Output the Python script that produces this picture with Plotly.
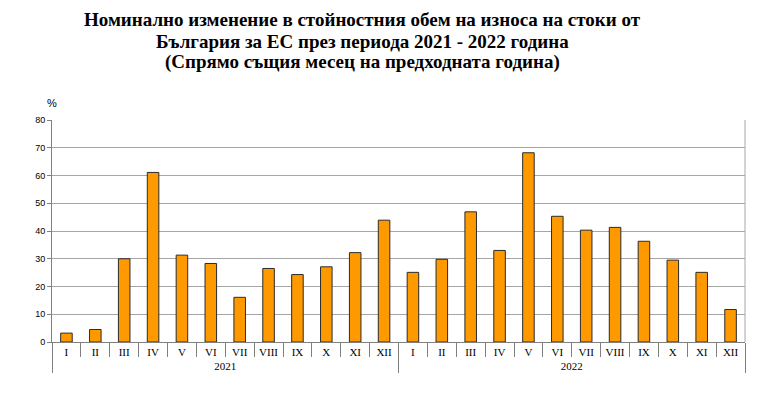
import plotly.graph_objects as go

years = ["2021"] * 12 + ["2022"] * 12
months = ["I", "II", "III", "IV", "V", "VI", "VII", "VIII", "IX", "X", "XI", "XII"] * 2
values = [3.2, 4.5, 30.0, 61.1, 31.3, 28.3, 16.1, 26.5, 24.3, 27.1, 32.2, 43.9,
          25.1, 29.8, 46.9, 33.0, 68.2, 45.3, 40.3, 41.3, 36.3, 29.5, 25.1, 11.7]
y_ticks = [0, 10, 20, 30, 40, 50, 60, 70, 80]

title_lines = [
    "Номинално изменение в стойностния обем на износа на стоки от",
    "България за ЕС през периода 2021 - 2022 година",
    "(Спрямо същия месец на предходната година)",
]

# page body adds an 8px offset; work in screen pixels
OFF = 8
L, R, T, B = 52, 23, 120, 54
W, H = 768 - OFF, 396 - OFF
PW, PH = 768 - L - R, 396 - T - B

SERIF = "Liberation Serif, Times New Roman, serif"
SANS = "Liberation Sans, Arial, sans-serif"


def px(x):
    return (x - L) / PW


def py(y):
    return (396 - B - y) / PH


fig = go.Figure()
fig.add_trace(go.Bar(
    x=[years, months], y=values,
    marker=dict(color="#FF9900", line=dict(color="#2b2b2b", width=1)),
    width=0.4,
))

anns = []
for i, (line, yc) in enumerate(zip(title_lines, [19, 41, 62])):
    anns.append(dict(text="<b>" + line + "</b>", x=px(362), y=py(yc),
                     xref="paper", yref="paper", xanchor="center", yanchor="middle",
                     showarrow=False, font=dict(family=SERIF, size=19, color="black")))
anns.append(dict(text="%", x=px(52), y=py(103), xref="paper", yref="paper",
                 xanchor="center", yanchor="middle", showarrow=False,
                 font=dict(family=SANS, size=11, color="black")))

fig.update_layout(
    width=W, height=H,
    margin=dict(l=L - OFF, r=R, t=T - OFF, b=B, autoexpand=False),
    paper_bgcolor="white", plot_bgcolor="white",
    showlegend=False,
    font=dict(family=SERIF, color="black"),
    annotations=anns,
)

fig.update_yaxes(
    range=[0, 80], tickvals=y_ticks, showgrid=True, gridcolor="#a6a6a6", gridwidth=1,
    showline=True, linecolor="#808080", linewidth=1, ticks="outside", ticklen=4,
    tickcolor="#808080", tickfont=dict(family=SANS, size=9, color="black"),
    zeroline=False, mirror=False,
)
fig.update_xaxes(
    type="multicategory", showline=True, linecolor="#808080", linewidth=1,
    tickson="boundaries", ticks="outside", ticklen=14, tickcolor="#808080",
    dividercolor="#808080", dividerwidth=1,
    tickfont=dict(family=SERIF, size=11, color="black"),
    showgrid=False,
)
fig.add_shape(type="line", xref="paper", yref="paper", x0=1, x1=1, y0=0, y1=1,
              line=dict(color="#a6a6a6", width=1))

fig.write_html("out.html")
